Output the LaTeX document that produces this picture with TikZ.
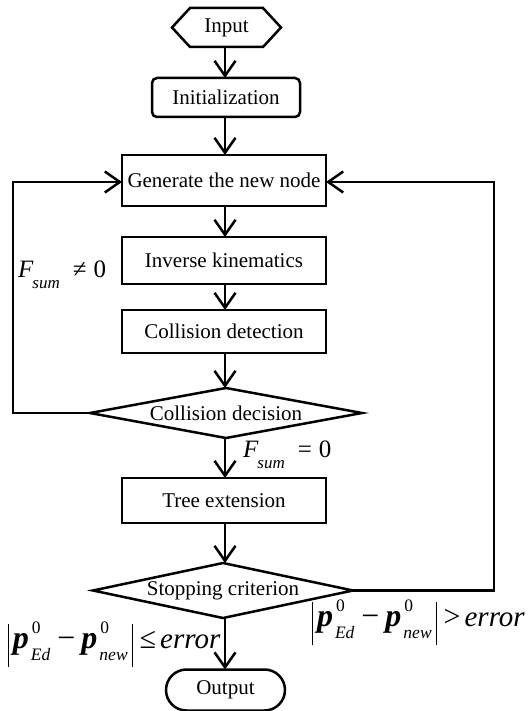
\documentclass[tikz,border=0pt]{standalone}
\usepackage{fontspec}
\setmainfont{Liberation Serif}
\usetikzlibrary{arrows.meta,shapes.misc}
\newcommand{\bfp}{{\fontsize{32}{32}\selectfont\textbf{\textit{p}}}}
\newcommand{\ssx}[2]{\makebox[0pt][l]{\raisebox{15pt}{\fontsize{17.5}{17.5}\selectfont\hspace{1pt}#1}}{\raisebox{-12pt}{\fontsize{17.5}{17.5}\selectfont\itshape #2}}}
\newcommand{\vbar}{\rule[-19pt]{1pt}{43pt}}
\newcommand{\Fsum}{\textit{F}\hspace{-1pt}\raisebox{-11pt}{\fontsize{17}{17}\selectfont\itshape sum}}
\newcommand{\perr}[1]{\vbar\hspace{4pt}\bfp\hspace{2pt}\ssx{0}{Ed}\hspace{7pt}{\fontsize{32}{32}\selectfont −}\hspace{6pt}\bfp\hspace{2pt}\ssx{0}{new}\hspace{4pt}\vbar\hspace{7pt}#1\hspace{4pt}{\fontsize{29}{29}\selectfont\textit{error}}}
\tikzset{
  every node/.style={font=\fontsize{21}{24}\selectfont, outer sep=0pt, inner sep=0pt},
  ln/.style={line width=2.5pt, line join=miter},
  boxx/.style={draw, ln, minimum width=204pt},
  arr/.style={ln, -{Straight Barb[length=15pt,width=21pt]}},
  lbl/.style={anchor=base west, font=\fontsize{25}{25}\selectfont},
  plbl/.style={anchor=base west, font=\fontsize{30}{30}\selectfont},
}
\begin{document}
\begin{tikzpicture}[x=1pt,y=-1pt]
\useasboundingbox (0,0) rectangle (527,711);
% nodes
\node[minimum width=109pt, minimum height=39pt] (in) at (226.5,27.5) {Input};
\draw[ln] (in.west) -- ([xshift=18pt]in.north west) -- ([xshift=-18pt]in.north east)
  -- (in.east) -- ([xshift=-18pt]in.south east) -- ([xshift=18pt]in.south west) -- cycle;
\node[draw, ln, rounded corners=5pt, minimum width=148pt, minimum height=39pt] (init) at (226,97.5) {Initialization};
\node[boxx, minimum height=51pt] (gen) at (224,180.5) {Generate the new node};
\node[boxx, minimum height=47pt] (ik) at (224,260.5) {Inverse kinematics};
\node[boxx, minimum height=43pt] (cd) at (224,331.5) {Collision detection};
\node[minimum width=272pt, minimum height=50pt] (dec) at (226,413) {Collision decision};
\draw[ln] (dec.west) -- (dec.north) -- (dec.east) -- (dec.south) -- cycle;
\node[boxx, minimum height=45pt] (tree) at (224,500.5) {Tree extension};
\node[minimum width=260pt, minimum height=55pt] (stop) at (223,590.5) {Stopping criterion};
\draw[ln] (stop.west) -- (stop.north) -- (stop.east) -- (stop.south) -- cycle;
\node[draw, ln, rounded rectangle, minimum width=119pt, minimum height=41pt] (out) at (225.5,690) {Output};
% connectors
\draw[arr] (in.south -| 225,0) -- (init.north -| 225,0);
\draw[arr] (init.south -| 225,0) -- (gen.north -| 225,0);
\draw[arr] (gen.south -| 225,0) -- (ik.north -| 225,0);
\draw[arr] (ik.south -| 225,0) -- (cd.north -| 225,0);
\draw[arr] (cd.south -| 225,0) -- (dec.north -| 225,0);
\draw[arr] (dec.south -| 225,0) -- (tree.north -| 225,0);
\draw[arr] (tree.south -| 225,0) -- (stop.north -| 225,0);
\draw[arr] (stop.south -| 225,0) -- (out.north -| 225,0);
\coordinate (l1) at (13,413);
\coordinate (l2) at (13,182);
\draw[arr] (dec.west) -- (l1) -- (l2) -- (gen.west |- l2);
\coordinate (r1) at (494,590.5);
\coordinate (r2) at (494,182);
\draw[arr] (stop.east) -- (r1) -- (r2) -- (gen.east |- r2);
% labels
\node[lbl] (f1) at (18,277) {\Fsum\hspace{13pt}≠\hspace{7pt}0};
\node[lbl] (f2) at (243,457) {\Fsum\hspace{13pt}=\hspace{7pt}0};
\node[plbl] (p1) at (8,648) {\perr{≤}};
\node[plbl] (p2) at (312,626) {\perr{>}};
\end{tikzpicture}
\end{document}
